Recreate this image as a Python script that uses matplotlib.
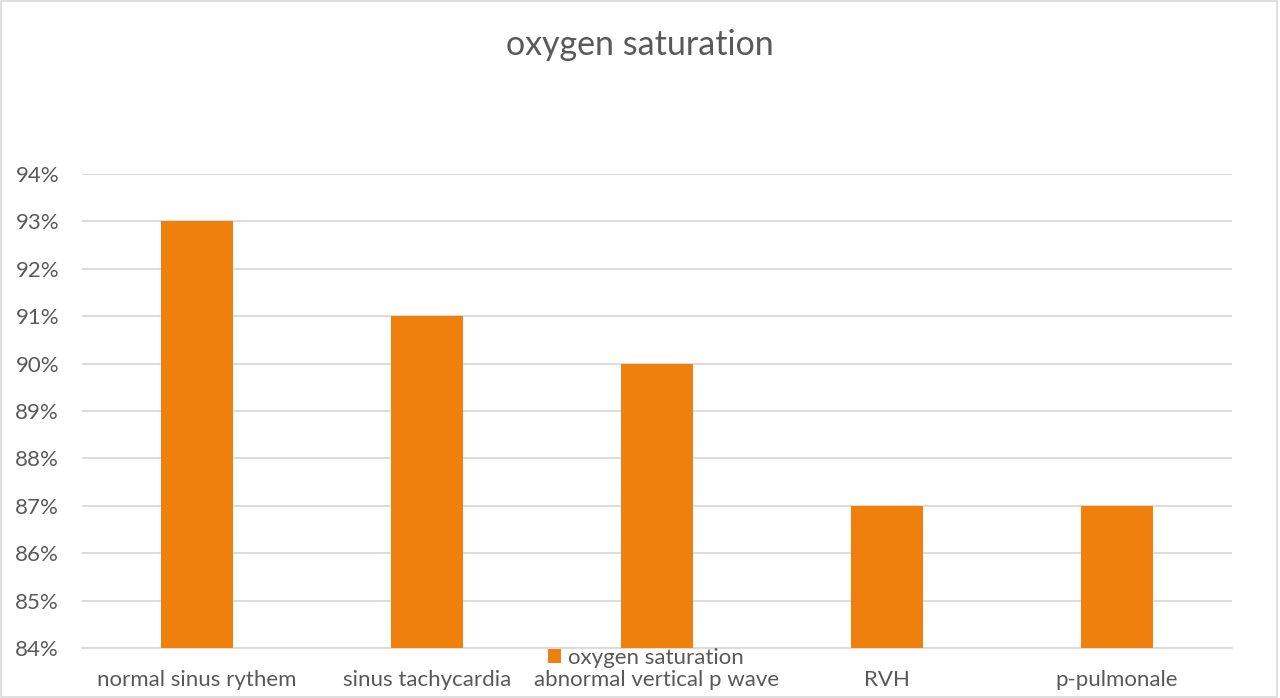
import matplotlib
matplotlib.use("Agg")
import matplotlib.pyplot as plt
from matplotlib.patches import Rectangle
from matplotlib.ticker import FuncFormatter

categories = ["normal sinus rythem", "sinus tachycardia", "abnormal vertical p wave",
              "RVH", "p-pulmonale"]
saturation = [0.93, 0.91, 0.90, 0.87, 0.87]
series_name = "oxygen saturation"

ORANGE = "#F0800D"
GRID = "#D9D9D9"
TEXT = "#595959"

plt.rcParams["font.family"] = ["Lato", "DejaVu Sans"]

fig = plt.figure(figsize=(12.8, 6.98), dpi=100)
ax = fig.add_axes([82 / 1280, 1 - 648 / 698, 1150 / 1280, (648 - 174) / 698])

x = range(len(categories))
ax.bar(x, saturation, width=0.31, color=ORANGE, zorder=3, label=series_name)

ax.set_ylim(0.84, 0.94)
ax.set_xlim(-0.5, len(categories) - 0.5)
ax.set_yticks([0.84 + i * 0.01 for i in range(11)])
ax.yaxis.set_major_formatter(FuncFormatter(lambda v, _: f"{v * 100:.0f}%"))
ax.set_xticks(list(x))
ax.set_xticklabels(categories)
ax.tick_params(axis="both", length=0, labelsize=16, labelcolor=TEXT)
ax.tick_params(axis="x", pad=15.5)
ax.tick_params(axis="y", pad=16.5)
ax.grid(axis="y", color=GRID, linewidth=1.3, zorder=0)
for side in ["top", "right", "left"]:
    ax.spines[side].set_visible(False)
ax.spines["bottom"].set_color(GRID)
ax.spines["bottom"].set_linewidth(1.3)

fig.suptitle("oxygen saturation", x=0.5, y=1 - 45 / 698, va="center",
             fontsize=24.5, color=TEXT)

fig.legend(loc="center", bbox_to_anchor=(646 / 1280, 1 - 658 / 698), frameon=False,
           fontsize=16, labelcolor=TEXT, handlelength=0.6, handleheight=0.6,
           handletextpad=0.3, borderpad=0)

fig.patches.append(Rectangle((0.001, 0.002), 0.997, 0.996, transform=fig.transFigure,
                             fill=False, edgecolor="#D9D9D9", linewidth=1.2))

fig.savefig("out.png", dpi=100)
